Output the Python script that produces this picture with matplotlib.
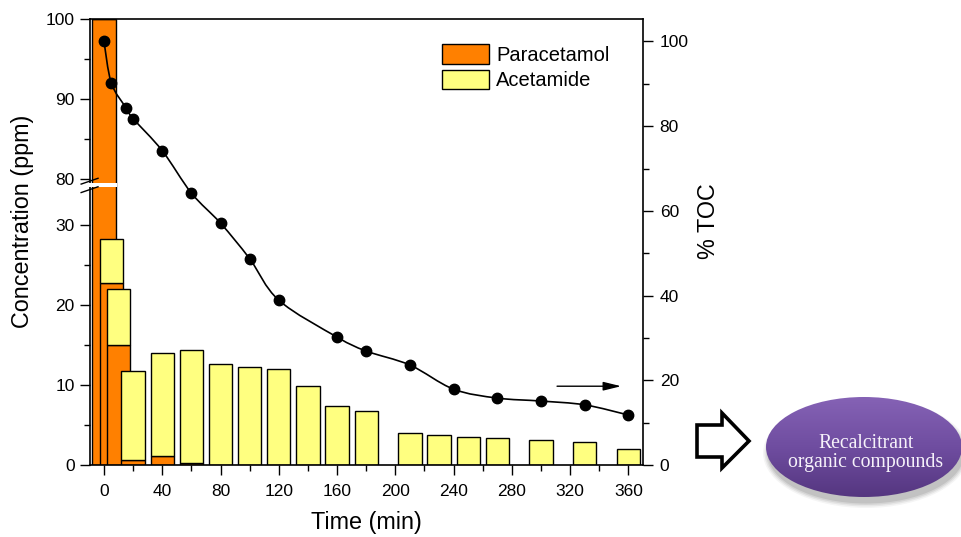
import numpy as np
import matplotlib
matplotlib.use('Agg')
import matplotlib.pyplot as plt
from matplotlib.path import Path
from matplotlib.patches import PathPatch, Ellipse, Polygon, Rectangle
from matplotlib.colors import LinearSegmentedColormap
from matplotlib.ticker import FixedLocator
import matplotlib.transforms as mtransforms

plt.rcParams['font.family'] = 'Liberation Sans'
plt.rcParams['font.size'] = 12

# ---------------------------------------------------------------------------
# data
# ---------------------------------------------------------------------------
bar_times = [0, 5, 10, 20, 40, 60, 80, 100, 120, 140, 160, 180,
             210, 230, 250, 270, 300, 330, 360]
paracetamol = [100, 22.8, 15.0, 0.6, 1.1, 0.2, 0, 0, 0, 0, 0, 0,
               0, 0, 0, 0, 0, 0, 0]
acetamide = [0, 5.5, 7.0, 11.1, 12.9, 14.2, 12.6, 12.3, 12.0, 9.9, 7.4, 6.8,
             4.0, 3.8, 3.5, 3.4, 3.1, 2.9, 2.0]

toc_times = [0, 5, 15, 20, 40, 60, 80, 100, 120, 160, 180, 210, 240, 270,
             300, 330, 360]
toc = [100, 90.2, 84.4, 81.8, 74.2, 64.2, 57.1, 48.7, 38.9, 30.2, 26.9, 23.6,
       17.9, 15.8, 15.1, 14.2, 11.8]

x_ticks = [0, 40, 80, 120, 160, 200, 240, 280, 320, 360]
conc_ticks = [0, 10, 20, 30, 80, 90, 100]
conc_minor = [5, 15, 25, 85, 95]
toc_ticks = [0, 20, 40, 60, 80, 100]

ORANGE = '#FF8000'
YELLOW = '#FFFF80'

# ---------------------------------------------------------------------------
# broken concentration axis: 0-35 and 80-100 on one linear strip
# ---------------------------------------------------------------------------
LOW, HIGH, SHIFT = 35.0, 79.75, 44.25


def fwd(y):
    y = np.asarray(y, dtype=float)
    mid = LOW + (y - LOW) * 0.5 / (HIGH - LOW)
    return np.where(y <= LOW, y, np.where(y >= HIGH, y - SHIFT, mid))


def inv(f):
    f = np.asarray(f, dtype=float)
    mid = LOW + (f - LOW) * (HIGH - LOW) / 0.5
    return np.where(f <= LOW, f, np.where(f >= LOW + 0.5, f + SHIFT, mid))


def smooth_path(x, y):
    """Catmull-Rom curve through the points, as cubic bezier segments"""
    pts = np.column_stack([x, y]).astype(float)
    p = np.vstack([pts[0], pts, pts[-1]])
    verts = [pts[0]]
    codes = [Path.MOVETO]
    for i in range(1, len(p) - 2):
        c1 = p[i] + (p[i + 1] - p[i - 1]) / 6.0
        c2 = p[i + 1] - (p[i + 2] - p[i]) / 6.0
        verts += [c1, c2, p[i + 1]]
        codes += [Path.CURVE4] * 3
    return Path(verts, codes)


fig = plt.figure(figsize=(9.62, 5.37), dpi=100)
ax = fig.add_axes([90 / 962, 72 / 537, 553 / 962, 446 / 537])

ax.set_yscale('function', functions=(fwd, inv))
ax.set_ylim(0, 100)
ax.set_xlim(-9.6, 370)

ax.bar(bar_times, paracetamol, width=16, color=ORANGE, edgecolor='black',
       linewidth=1.0, label='Paracetamol', zorder=2)
ax.bar(bar_times, acetamide, width=16, bottom=paracetamol, color=YELLOW,
       edgecolor='black', linewidth=1.0, label='Acetamide', zorder=2)

ax.yaxis.set_major_locator(FixedLocator(conc_ticks))
ax.yaxis.set_minor_locator(FixedLocator(conc_minor))
ax.set_yticklabels([str(t) for t in conc_ticks])
ax.set_xticks(x_ticks)
ax.xaxis.set_minor_locator(FixedLocator(np.array(x_ticks[:-1]) + 20))

ax.tick_params(axis='both', which='major', direction='out', length=7,
               width=1.0, labelsize=12.5)
ax.tick_params(axis='both', which='minor', direction='out', length=4,
               width=1.0)
ax.tick_params(axis='y', pad=4)
ax.tick_params(axis='x', pad=7)
ax.spines['right'].set_visible(False)
for s in ['left', 'bottom', 'top']:
    ax.spines[s].set_linewidth(1.2)

ax.set_xlabel('Time (min)', fontsize=16.8)
ax.xaxis.set_label_coords(0.5, -0.103)
ax.set_ylabel('Concentration (ppm)', fontsize=16.8)
ax.yaxis.set_label_coords(-0.101, 0.547)

# break marks on the left axis
fb = fwd(35.2) / fwd(100)
blend = mtransforms.blended_transform_factory(ax.transAxes, ax.transAxes)
ax.add_patch(Rectangle((-0.03, fb - 0.005), 0.079, 0.009, transform=blend,
                       facecolor='white', edgecolor='none', zorder=6,
                       clip_on=False))
for y0 in (fb - 0.017, fb + 0.002):
    ax.plot([-0.016, 0.0145], [y0, y0 + 0.013], transform=ax.transAxes,
            color='black', lw=1.0, clip_on=False, zorder=7)

ax.legend(loc='upper left', bbox_to_anchor=(0.6365, 0.943), frameon=False,
          fontsize=14.5, handlelength=2.35, handleheight=1.1,
          handletextpad=0.35, labelspacing=0.25, borderpad=0,
          borderaxespad=0)

# ---------------------------------------------------------------------------
# TOC on the right axis
# ---------------------------------------------------------------------------
ax2 = ax.twinx()
ax2.set_ylim(0, 105.3)
ax2.set_yticks(toc_ticks)
ax2.yaxis.set_minor_locator(FixedLocator(np.array(toc_ticks[:-1]) + 10))
ax2.tick_params(axis='y', which='major', direction='out', length=7,
                width=1.0, labelsize=12.5, pad=5)
ax2.tick_params(axis='y', which='minor', direction='out', length=4, width=1.0)
for s in ['left', 'top', 'bottom']:
    ax2.spines[s].set_visible(False)
ax2.spines['right'].set_linewidth(1.2)

ax2.add_patch(PathPatch(smooth_path(toc_times, toc), facecolor='none',
                        edgecolor='black', lw=1.2, zorder=3))
ax2.plot(toc_times, toc, 'o', color='black', markersize=7.5, zorder=4)
ax2.annotate('', xy=(355, 18.6), xytext=(311, 18.6),
             arrowprops=dict(arrowstyle='-|>,head_length=0.9,head_width=0.22',
                             color='black', lw=1.0, mutation_scale=12,
                             shrinkA=0, shrinkB=0))
ax2.set_ylabel('% TOC', fontsize=16.8)
ax2.yaxis.set_label_coords(1.098, 0.546)

# ---------------------------------------------------------------------------
# hollow arrow and ellipse on the right
# ---------------------------------------------------------------------------
deco = fig.add_axes([0, 0, 1, 1])
deco.set_xlim(0, 962)
deco.set_ylim(537, 0)
deco.axis('off')
deco.patch.set_visible(False)

deco.add_patch(Polygon([(697, 425), (722, 425), (722, 413), (749, 441),
                        (722, 468), (722, 457), (697, 457)],
                       closed=True, facecolor='white', edgecolor='black',
                       lw=2.6, joinstyle='miter'))

cx, cy, ew, eh = 864, 447, 196, 100
for k, a in enumerate([0.08, 0.12, 0.16, 0.22]):
    grow = 10 - 3 * k
    deco.add_patch(Ellipse((cx + 2, cy + 6), ew + grow, eh + grow,
                           facecolor='#808080', edgecolor='none', alpha=a,
                           zorder=1))

purple = LinearSegmentedColormap.from_list(
    'purple', ['#8562B5', '#6F4DA0', '#553680'])
ell = Ellipse((cx, cy), ew, eh, facecolor='none', edgecolor='none', zorder=2)
deco.add_patch(ell)
grad = np.linspace(0, 1, 200).reshape(-1, 1)
img = deco.imshow(grad, cmap=purple, aspect='auto', zorder=3,
                  extent=(cx - ew / 2, cx + ew / 2, cy + eh / 2, cy - eh / 2),
                  interpolation='bilinear')
img.set_clip_path(ell)
deco.set_xlim(0, 962)
deco.set_ylim(537, 0)

deco.text(866, 453, 'Recalcitrant\norganic compounds', ha='center',
          va='center', color='#F6F2FA', fontsize=14.2,
          family='Liberation Serif', linespacing=1.05, zorder=4)

fig.savefig('out.png', dpi=100)
